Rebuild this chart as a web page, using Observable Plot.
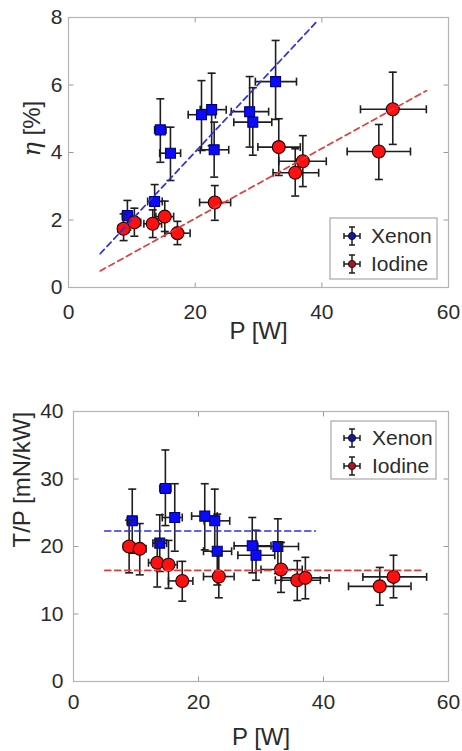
<!DOCTYPE html>
<html><head><meta charset="utf-8">
<script src="https://cdn.jsdelivr.net/npm/d3@7"></script>
<script src="https://cdn.jsdelivr.net/npm/@observablehq/plot@0.6"></script>
<style>
body{margin:0;background:#fff;}
#wrap{width:462px;height:751px;position:relative;overflow:hidden;}
svg{display:block;}
</style></head><body><div id="wrap"></div>
<script>
// ---------- data ----------
const seriesNames = ["Xenon", "Iodine"];
const xTicks = [0, 20, 40, 60];
const effTicks = [0, 2, 4, 6, 8];
const tpTicks = [0, 10, 20, 30, 40];

// Efficiency: [P, Plo, Phi, eta, etaLo, etaHi]
const xenonEff = [
  [9.3, 8.5, 10.1, 2.13, 1.70, 2.58],
  [13.6, 12.5, 14.8, 2.55, 2.03, 3.05],
  [14.5, 13.6, 15.4, 4.67, 3.71, 5.59],
  [16.1, 14.4, 17.7, 3.98, 3.17, 4.75],
  [21.0, 18.9, 23.2, 5.12, 4.06, 6.13],
  [22.6, 20.8, 24.9, 5.27, 4.20, 6.35],
  [23.0, 20.8, 25.3, 4.08, 3.27, 4.90],
  [28.6, 25.7, 31.6, 5.21, 4.16, 6.25],
  [29.1, 26.1, 32.1, 4.90, 3.92, 5.92],
  [32.7, 29.5, 36.0, 6.10, 4.98, 7.32]
];
const iodineEff = [
  [8.7, 7.8, 9.6, 1.74, 1.39, 2.18],
  [10.4, 9.4, 11.4, 1.93, 1.52, 2.35],
  [13.3, 11.9, 14.7, 1.89, 1.48, 2.30],
  [15.2, 13.8, 16.6, 2.10, 1.66, 2.56],
  [17.2, 15.2, 19.2, 1.61, 1.27, 1.96],
  [23.1, 20.7, 25.6, 2.52, 1.99, 3.02],
  [33.2, 29.9, 36.6, 4.16, 3.32, 5.00],
  [35.8, 32.3, 39.5, 3.40, 2.71, 4.11],
  [37.0, 33.2, 40.7, 3.74, 2.99, 4.50],
  [49.0, 44.0, 54.0, 4.03, 3.20, 4.83],
  [51.2, 46.1, 56.5, 5.28, 4.24, 6.38]
];
// Thrust-to-power: [P, Plo, Phi, TP, TPlo, TPhi]
const xenonTP = [
  [9.4, 8.6, 10.2, 23.8, 19.0, 28.5],
  [13.8, 12.7, 14.9, 20.5, 16.3, 24.7],
  [14.7, 13.8, 15.6, 28.6, 23.1, 34.3],
  [16.2, 14.2, 17.4, 24.3, 19.3, 29.3],
  [21.0, 18.9, 23.0, 24.5, 19.5, 29.3],
  [22.6, 20.9, 25.0, 23.8, 19.2, 28.5],
  [23.0, 20.8, 25.3, 19.3, 14.3, 24.8],
  [28.6, 25.7, 31.6, 20.1, 16.1, 24.3],
  [29.2, 26.3, 32.2, 18.7, 15.0, 22.4],
  [32.7, 29.5, 36.0, 20.0, 16.0, 24.1]
];
const iodineTP = [
  [8.9, 8.0, 9.8, 20.0, 16.1, 23.9],
  [10.6, 9.6, 11.6, 19.65, 15.8, 23.4],
  [13.4, 12.0, 14.8, 17.6, 14.0, 20.9],
  [15.2, 13.8, 16.6, 17.3, 13.8, 20.9],
  [17.4, 15.2, 19.1, 14.9, 11.9, 17.8],
  [23.25, 20.8, 25.7, 15.55, 12.4, 18.7],
  [33.2, 30.0, 36.6, 16.6, 13.2, 20.6],
  [35.8, 32.3, 39.5, 15.0, 12.0, 17.9],
  [37.1, 33.3, 40.9, 15.35, 12.25, 18.4],
  [49.0, 44.0, 54.0, 14.1, 11.3, 16.9],
  [51.2, 46.3, 56.5, 15.5, 12.4, 18.7]
];
// fit lines: [P, value] endpoints
const xenonEffFit = [[5, 1.0], [39.3, 7.9]];
const iodineEffFit = [[5, 0.49], [56.5, 5.83]];
const xenonTPFit = [[5, 22.3], [38.7, 22.3]];
const iodineTPFit = [[5, 16.45], [55.9, 16.45]];

// ---------- styling ----------
const FONT = "'Liberation Sans', Arial, Helvetica, sans-serif";
const TXT = "#2b2b2b";
const BAR = "#1e1e1e";
const XE_FILL = "#0a0aff", XE_EDGE = "#00007a";
const IO_FILL = "#ff1010", IO_EDGE = "#2a0000";
const XE_LINE = "#2f2fdc", IO_LINE = "#e23b3b";

const toRows = a => a.map(([P, Plo, Phi, v, lo, hi]) => ({P, Plo, Phi, v, lo, hi}));
const toFit = a => a.map(([P, v]) => ({P, v}));

const sym = (pts) => ({draw(c) { c.moveTo(pts[0], pts[1]); c.lineTo(pts[2], pts[3]); }});
const hCap = sym([-4, 0, 4, 0]);
const vCap = sym([0, -4, 0, 4]);
const tUp = sym([0, 0, 0, -5]);
const tDown = sym([0, 0, 0, 5]);
const tRight = sym([0, 0, 5, 0]);
const tLeft = sym([0, 0, -5, 0]);

function errMarks(rows, markerSymbol, r, fill, edge) {
  return [
    Plot.ruleX(rows, {x: "P", y1: "lo", y2: "hi", stroke: BAR, strokeWidth: 1.6}),
    Plot.ruleY(rows, {y: "v", x1: "Plo", x2: "Phi", stroke: BAR, strokeWidth: 1.6}),
    Plot.dot(rows, {x: "P", y: "lo", symbol: hCap, fill: "none", stroke: BAR, strokeWidth: 1.6}),
    Plot.dot(rows, {x: "P", y: "hi", symbol: hCap, fill: "none", stroke: BAR, strokeWidth: 1.6}),
    Plot.dot(rows, {x: "Plo", y: "v", symbol: vCap, fill: "none", stroke: BAR, strokeWidth: 1.6}),
    Plot.dot(rows, {x: "Phi", y: "v", symbol: vCap, fill: "none", stroke: BAR, strokeWidth: 1.6}),
    Plot.dot(rows, {x: "P", y: "v", symbol: markerSymbol, r, fill, stroke: edge, strokeWidth: 1.1})
  ];
}

function chart(o) {
  const yMin = o.yTicks[0], yMax = o.yTicks[o.yTicks.length - 1];
  const xMin = xTicks[0], xMax = xTicks[xTicks.length - 1];
  const svg = Plot.plot({
    width: 462, height: o.height,
    marginTop: o.mt, marginBottom: o.mb, marginLeft: o.ml, marginRight: o.mr,
    style: {fontFamily: FONT, fontSize: "21px", color: TXT, background: "#fff"},
    x: {domain: [xMin, xMax], label: null},
    y: {domain: [yMin, yMax], label: null},
    marks: [
      Plot.axisX({ticks: xTicks, tickSize: 0, tickPadding: o.xPad, tickFormat: d => String(d), label: null}),
      Plot.axisY({ticks: o.yTicks, tickSize: 0, tickPadding: o.yPad, tickFormat: d => String(d), label: null}),
      Plot.dot(xTicks.map(x => ({x})), {x: "x", y: () => yMin, symbol: tUp, fill: "none", stroke: "#999", strokeWidth: 1}),
      Plot.dot(xTicks.map(x => ({x})), {x: "x", y: () => yMax, symbol: tDown, fill: "none", stroke: "#999", strokeWidth: 1}),
      Plot.dot(o.yTicks.map(y => ({y})), {y: "y", x: () => xMin, symbol: tRight, fill: "none", stroke: "#999", strokeWidth: 1}),
      Plot.dot(o.yTicks.map(y => ({y})), {y: "y", x: () => xMax, symbol: tLeft, fill: "none", stroke: "#999", strokeWidth: 1}),
      Plot.frame({stroke: "#b4b4b4", strokeWidth: 1.2}),
      ...errMarks(o.xe, "square", 5.6, XE_FILL, XE_EDGE),
      ...errMarks(o.io, "circle", 6.5, IO_FILL, IO_EDGE),
      Plot.line(o.xeFit, {x: "P", y: "v", stroke: XE_LINE, strokeWidth: 1.7, strokeDasharray: "6,4"}),
      Plot.line(o.ioFit, {x: "P", y: "v", stroke: IO_LINE, strokeWidth: 1.7, strokeDasharray: "6,4"}),
      Plot.text([o.xlabel], {frameAnchor: "bottom", dy: o.xlabDy, fontSize: 24, fill: TXT, lineAnchor: "middle"}),
      Plot.text([o.ylabel], {frameAnchor: "left", dx: o.ylabDx, dy: o.ylabDy, rotate: -90, fontSize: 24, fill: TXT, lineAnchor: "middle"})
    ]
  });
  // legend
  const g = d3.select(svg).append("g").attr("font-family", FONT).attr("text-anchor", "start");
  const L = o.legend;
  g.append("rect").attr("x", L.x).attr("y", L.y).attr("width", L.w).attr("height", L.h)
    .attr("fill", "#fff").attr("stroke", "#a8a8a8").attr("stroke-width", 1.2);
  const items = [
    {name: seriesNames[0], fill: "#1515a8", cy: L.y1},
    {name: seriesNames[1], fill: "#b0141e", cy: L.y2}
  ];
  for (const it of items) {
    const cx = L.gx, cy = it.cy;
    const gg = g.append("g").attr("stroke", BAR).attr("stroke-width", 1.5);
    gg.append("line").attr("x1", cx - 8).attr("x2", cx + 8).attr("y1", cy).attr("y2", cy);
    gg.append("line").attr("x1", cx).attr("x2", cx).attr("y1", cy - 9).attr("y2", cy + 9);
    gg.append("line").attr("x1", cx - 8).attr("x2", cx - 8).attr("y1", cy - 3).attr("y2", cy + 3);
    gg.append("line").attr("x1", cx + 8).attr("x2", cx + 8).attr("y1", cy - 3).attr("y2", cy + 3);
    gg.append("line").attr("x1", cx - 3).attr("x2", cx + 3).attr("y1", cy - 9).attr("y2", cy - 9);
    gg.append("line").attr("x1", cx - 3).attr("x2", cx + 3).attr("y1", cy + 9).attr("y2", cy + 9);
    g.append("circle").attr("cx", cx).attr("cy", cy).attr("r", 3.6).attr("fill", it.fill).attr("stroke", "#111").attr("stroke-width", 1);
    g.append("text").attr("x", L.tx).attr("y", cy).attr("dy", "0.35em").attr("font-size", 21).attr("fill", TXT).text(it.name);
  }
  return svg;
}

const wrap = document.getElementById("wrap");

const topChart = chart({
  height: 370, mt: 17, mb: 83, ml: 68, mr: 14,
  yTicks: effTicks, xPad: 17, yPad: 6,
  xe: toRows(xenonEff), io: toRows(iodineEff),
  xeFit: toFit(xenonEffFit), ioFit: toFit(iodineEffFit),
  xlabel: "P [W]", xlabDy: 44, ylabel: "η [%]", ylabDx: -36, ylabDy: 4,
  legend: {x: 330, y: 218, w: 107, h: 61, y1: 236, y2: 264, gx: 352, tx: 371}
});
wrap.appendChild(topChart);
d3.select(topChart).selectAll("text").filter(function() { return this.textContent === "η [%]"; })
  .each(function() {
    const t = d3.select(this);
    t.text(null);
    t.append("tspan").attr("font-family", "'DejaVu Serif', 'Liberation Serif', serif").attr("font-style", "italic").text("η");
    t.append("tspan").text(" [%]");
  });

const bottomChart = chart({
  height: 381, mt: 41, mb: 70, ml: 73, mr: 14,
  yTicks: tpTicks, xPad: 13, yPad: 10,
  xe: toRows(xenonTP), io: toRows(iodineTP),
  xeFit: toFit(xenonTPFit), ioFit: toFit(iodineTPFit),
  xlabel: "P [W]", xlabDy: 56, ylabel: "T/P [mN/kW]", ylabDx: -51, ylabDy: 1,
  legend: {x: 331, y: 51, w: 105, h: 58, y1: 68, y2: 96, gx: 352, tx: 372}
});
wrap.appendChild(bottomChart);
</script></body></html>
